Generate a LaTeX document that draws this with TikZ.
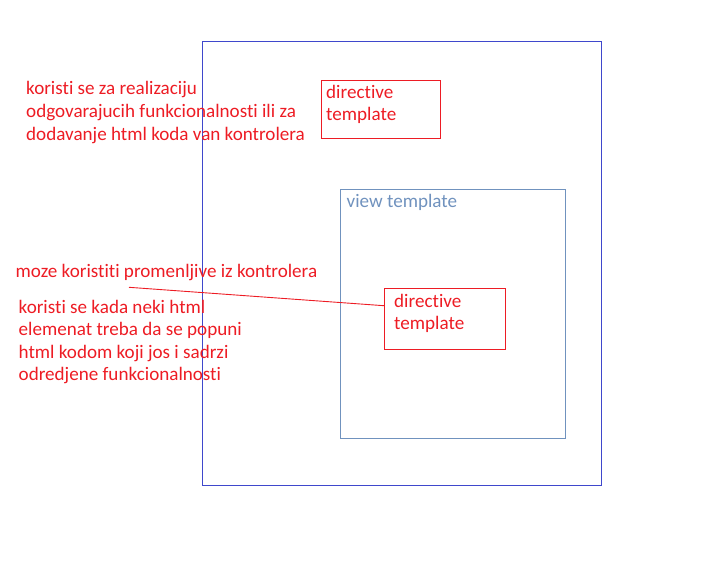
\documentclass[tikz,border=0pt]{standalone}
\usepackage{fontspec}
\setmainfont{Carlito}[Ligatures={NoCommon}]
\begin{document}
\begin{tikzpicture}[x=1pt,y=-1pt,
  txt/.style={text=pred, inner sep=0pt, anchor=base west, font=\fontsize{19.1}{22.6}\selectfont}]
\definecolor{pred}{HTML}{ED1C24}
\definecolor{pindigo}{HTML}{3F48CC}
\definecolor{pgray}{HTML}{7092BE}
\useasboundingbox (0,0) rectangle (712,576);
\draw[draw=pindigo, line width=0.9pt] (202,41) rectangle (601,485) coordinate (outerBR);
\node[draw=pgray, line width=0.9pt, minimum width=225pt, minimum height=249pt, anchor=north west, inner sep=0pt] (view) at (340,189) {};
\node[draw=pred, line width=0.9pt, minimum width=119pt, minimum height=58pt, anchor=north west, inner sep=0pt] (dir1) at (321,80) {};
\node[draw=pred, line width=0.9pt, minimum width=121pt, minimum height=61pt, anchor=north west, inner sep=0pt] (dir2) at (384,288) {};
\node[txt] (d1a) at (326,98.2) {directive};
\node[txt] (d1b) at (326,120.8) {template};
\node[txt] (d2a) at (394,307.2) {directive};
\node[txt] (d2b) at (394,329.8) {template};
\node[txt, text=pgray] (vt) at (346.5,207.2) {view template};
\node[txt] (n1a) at (26,94.8) {koristi se za realizaciju};
\node[txt] (n1b) at (26,117.4) {odgovarajucih funkcionalnosti ili za};
\node[txt] (n1c) at (26,140) {dodavanje html koda van kontrolera};
\node[txt] (n2) at (15.5,277.2) {moze koristiti promenljive iz kontrolera};
\node[txt] (n3a) at (18.5,313.2) {koristi se kada neki html};
\node[txt] (n3b) at (18.5,335.7) {elemenat treba da se popuni};
\node[txt] (n3c) at (18.5,358.2) {html kodom koji jos i sadrzi};
\node[txt] (n3d) at (18.5,380.7) {odredjene funkcionalnosti};
\coordinate (lstart) at (129,287.3);
\draw[draw=pred, line width=0.9pt] (lstart) -- (dir2.west |- 0,305.7);
\end{tikzpicture}
\end{document}
